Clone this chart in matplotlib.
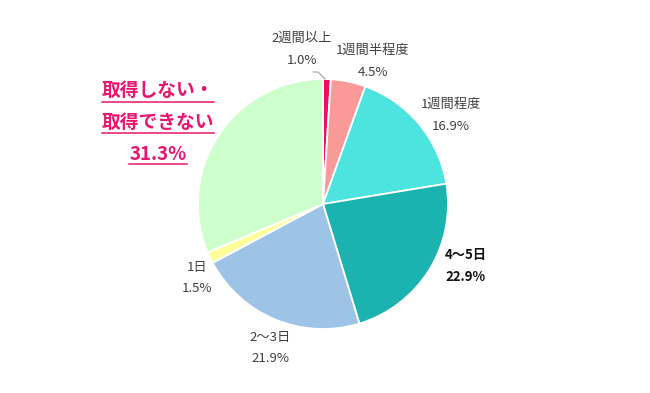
"""Pie chart of paid-leave days taken, drawn in image pixel coordinates."""

import matplotlib

matplotlib.use("Agg")
import matplotlib.pyplot as plt

plt.rcParams["font.family"] = ["Noto Sans CJK JP", "DejaVu Sans"]

# data (clockwise from 12 o'clock)
labels = ["2週間以上", "1週間半程度", "1週間程度", "4～5日", "2～3日", "1日", "取得しない・\n取得できない"]
values = [1.0, 4.5, 16.9, 22.9, 21.9, 1.5, 31.3]
colors = ["#E8125F", "#F99A98", "#4DE3DF", "#1BB3AF", "#9DC3E6", "#FFFF99", "#CCFFCC"]

W, H = 650, 393
CENTER = (323, 204)
RADIUS = 125

# label anchor (x, y of first line) in pixels, layout only
label_pos = [(302, 38), (373, 50), (451, 104), (466, 255), (270, 337), (197, 267)]
label_bold = [False, False, False, True, False, False]
PINK = "#E5176E"

fig = plt.figure(figsize=(W / 100, H / 100), dpi=100)
ax = fig.add_axes([0, 0, 1, 1])

# y axis points down so everything is in image pixels; flip the pie direction to match
ax.pie(
    values,
    colors=colors,
    startangle=-90,
    counterclock=True,
    center=CENTER,
    radius=RADIUS,
    wedgeprops={"edgecolor": "white", "linewidth": 1.3},
)
ax.set_xlim(0, W)
ax.set_ylim(H, 0)
ax.set_aspect("auto")
ax.axis("off")

for (x, y), name, val, bold in zip(label_pos, labels, values, label_bold):
    col = "#111111" if bold else "#404040"
    wt = "bold" if bold else "normal"
    ax.text(x, y, name, ha="center", va="center", fontsize=9.5, color=col, fontweight=wt)
    ax.text(x, y + 22, f"{val:.1f}%", ha="center", va="center", fontsize=9.5, color=col, fontweight=wt)

# leader line for the thin 1.0% slice
ax.plot([313, 318, 325], [72, 72, 79], color="#999999", linewidth=0.7)

# highlighted label for the largest slice, underlined
big_lines = labels[-1].split("\n") + [f"{values[-1]:.1f}%"]
big_y = [91, 122, 154]
texts = []
for line, y in zip(big_lines, big_y):
    t = ax.text(158, y, line, ha="center", va="center", fontsize=13.5, color=PINK, fontweight="bold")
    texts.append(t)

fig.canvas.draw()
renderer = fig.canvas.get_renderer()
inv = ax.transData.inverted()
for t in texts:
    bb = t.get_window_extent(renderer)
    (x0, y0), (x1, y1) = inv.transform([(bb.x0, bb.y0), (bb.x1, bb.y1)])
    ax.plot([x0, x1], [max(y0, y1) + 1, max(y0, y1) + 1], color=PINK, linewidth=1.1)

fig.savefig("out.png", dpi=100)
plt.close(fig)
